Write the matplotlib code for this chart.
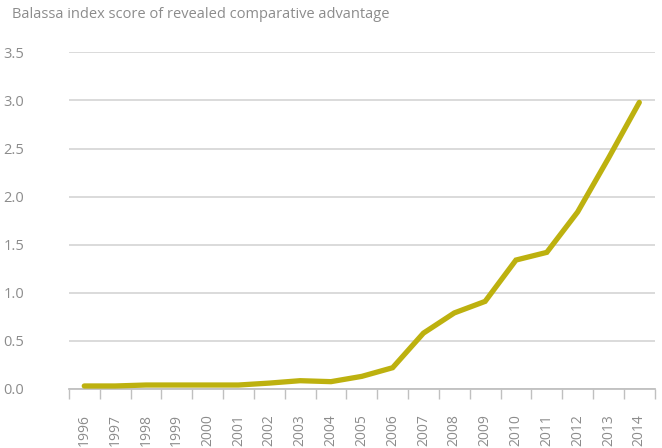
import matplotlib
matplotlib.use("Agg")
import matplotlib.pyplot as plt
from matplotlib.ticker import FixedLocator

years = [str(y) for y in range(1996, 2015)]
values = [0.03, 0.03, 0.04, 0.04, 0.04, 0.04, 0.06, 0.085, 0.075, 0.13, 0.22,
          0.58, 0.79, 0.91, 1.34, 1.42, 1.84, 2.40, 2.98]
yticks = [0.0, 0.5, 1.0, 1.5, 2.0, 2.5, 3.0, 3.5]
title = "Balassa index score of revealed comparative advantage"

plt.rcParams['font.family'] = ['Open Sans', 'DejaVu Sans']
gray = '#8c8c8c'

fig = plt.figure(figsize=(6.62, 4.48), dpi=100)
ax = fig.add_axes([0.104, 0.132, 0.885, 0.751])

x = list(range(len(years)))
ax.plot(x, values, color='#BDB10F', lw=3.8, solid_capstyle='round', solid_joinstyle='miter', zorder=3)

ax.set_xlim(-0.5, len(years) - 0.5)
ax.set_ylim(0, 3.5)
ax.set_yticks(yticks)
ax.set_yticklabels([f"{v:.1f}" for v in yticks])
ax.yaxis.grid(True, color='#d4d4d4', lw=1.2)
ax.set_axisbelow(True)

ax.set_xticks(x)
ax.set_xticklabels(years, rotation=90, va='top', ha='center')
ax.xaxis.set_minor_locator(FixedLocator([i - 0.5 for i in range(len(years) + 1)]))
ax.tick_params(axis='x', which='major', length=0, pad=18, labelsize=10, labelcolor=gray)
ax.tick_params(axis='x', which='minor', length=7, width=1, color='#c0c0c0', direction='out')
ax.tick_params(axis='y', length=0, pad=32, labelsize=10.5, labelcolor=gray)

for s in ['top', 'right', 'left']:
    ax.spines[s].set_visible(False)
ax.spines['bottom'].set_color('#c0c0c0')
ax.spines['bottom'].set_linewidth(1.3)

fig.text(0.018, 0.968, title, color=gray, fontsize=10.5, ha='left', va='center')

fig.savefig('out.png', dpi=100)
